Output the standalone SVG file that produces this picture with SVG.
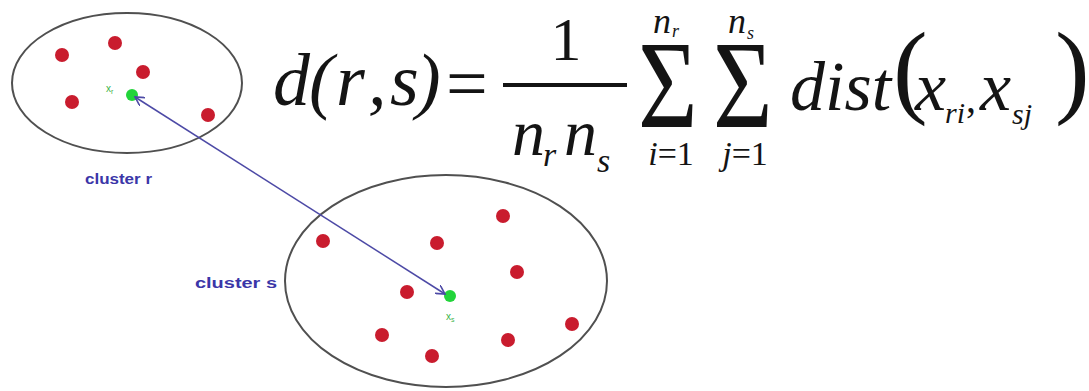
<svg xmlns="http://www.w3.org/2000/svg" width="1089" height="391" viewBox="0 0 1089 391">
<style>
.ell{fill:none;stroke:#505050;stroke-width:2}
.red{fill:#c91c2e}
.grn{fill:#22d43a}
.lbl{font-family:'Liberation Sans',Arial,sans-serif;font-weight:bold;font-size:14px;fill:#3b36a8}
.tiny{font-family:'Liberation Sans',Arial,sans-serif;font-size:10px;fill:#3cb44a}
</style>
<defs>
<marker id="ah" viewBox="0 0 10 10" refX="9" refY="5" markerWidth="10" markerHeight="10" markerUnits="userSpaceOnUse" orient="auto-start-reverse">
<path d="M0,0 L9,5 L0,10" fill="none" stroke="#4d4aa6" stroke-width="1.6"/>
</marker>
</defs>
<rect width="1089" height="391" fill="#ffffff"/>

<g id="cluster-r">
<ellipse class="ell" cx="127" cy="83" rx="115" ry="70"/>
<circle class="red" cx="115" cy="43" r="7"/>
<circle class="red" cx="62" cy="55" r="7"/>
<circle class="red" cx="143" cy="72" r="7"/>
<circle class="red" cx="72" cy="102" r="7"/>
<circle class="red" cx="208" cy="115" r="7"/>
<circle class="grn" cx="132" cy="95" r="6"/>
<text class="tiny" x="106" y="92">x<tspan font-size="7" dy="2">r</tspan></text>
<text class="lbl" x="85" y="184" textLength="67" lengthAdjust="spacingAndGlyphs">cluster r</text>
</g>

<g id="cluster-s">
<ellipse class="ell" cx="446" cy="281" rx="161" ry="106"/>
<circle class="red" cx="323" cy="241" r="7"/>
<circle class="red" cx="437" cy="243" r="7"/>
<circle class="red" cx="503" cy="216" r="7"/>
<circle class="red" cx="517" cy="272" r="7"/>
<circle class="red" cx="407" cy="292" r="7"/>
<circle class="red" cx="382" cy="335" r="7"/>
<circle class="red" cx="432" cy="356" r="7"/>
<circle class="red" cx="508" cy="340" r="7"/>
<circle class="red" cx="572" cy="324" r="7"/>
<circle class="grn" cx="450" cy="296" r="6"/>
<text class="tiny" x="446" y="320">x<tspan font-size="7" dy="2">s</tspan></text>
<text class="lbl" x="195" y="288" textLength="82" lengthAdjust="spacingAndGlyphs">cluster s</text>
</g>

<g id="connectors">
<line x1="135" y1="97" x2="445" y2="294" stroke="#4d4aa6" stroke-width="1.5" marker-start="url(#ah)" marker-end="url(#ah)"/>
</g>

<g id="formula" font-family="Times New Roman, Liberation Serif, DejaVu Serif, Noto Serif, serif" fill="#141414">
<text font-style="italic" y="105" font-size="74" x="273 309 336 368 390 416">d(r,s)</text>
<text x="446" y="108" font-size="74">=</text>
<text x="566" y="60" font-size="62" text-anchor="middle">1</text>
<line x1="503" y1="85" x2="627" y2="85" stroke="#141414" stroke-width="4"/>
<text font-style="italic" x="512" y="155" font-size="66">n</text>
<text font-style="italic" x="543" y="166" font-size="34">r</text>
<text font-style="italic" x="564" y="155" font-size="66">n</text>
<text font-style="italic" x="597" y="172" font-size="34">s</text>
<text font-size="128" transform="translate(638,127) scale(0.8,0.98)">Σ</text>
<text font-size="128" transform="translate(713,127) scale(0.8,0.98)">Σ</text>
<text font-style="italic" x="653" y="33" font-size="36">n</text>
<text font-style="italic" x="672" y="37" font-size="18">r</text>
<text font-style="italic" x="728" y="33" font-size="36">n</text>
<text font-style="italic" x="747" y="39" font-size="18">s</text>
<text x="671" y="165" font-size="34" text-anchor="middle"><tspan font-style="italic">i</tspan>=1</text>
<text x="745" y="165" font-size="34" text-anchor="middle"><tspan font-style="italic">j</tspan>=1</text>
<text font-style="italic" x="790" y="110" font-size="70">dist</text>
<text x="893" y="104" font-size="104">(</text>
<text font-style="italic" x="915" y="110" font-size="70">x</text>
<text font-style="italic" x="945" y="123" font-size="30">ri</text>
<text x="966" y="112" font-size="40">,</text>
<text font-style="italic" x="980" y="110" font-size="70">x</text>
<text font-style="italic" x="1012" y="124" font-size="30">sj</text>
<text x="1055" y="104" font-size="104">)</text>
</g>
</svg>
